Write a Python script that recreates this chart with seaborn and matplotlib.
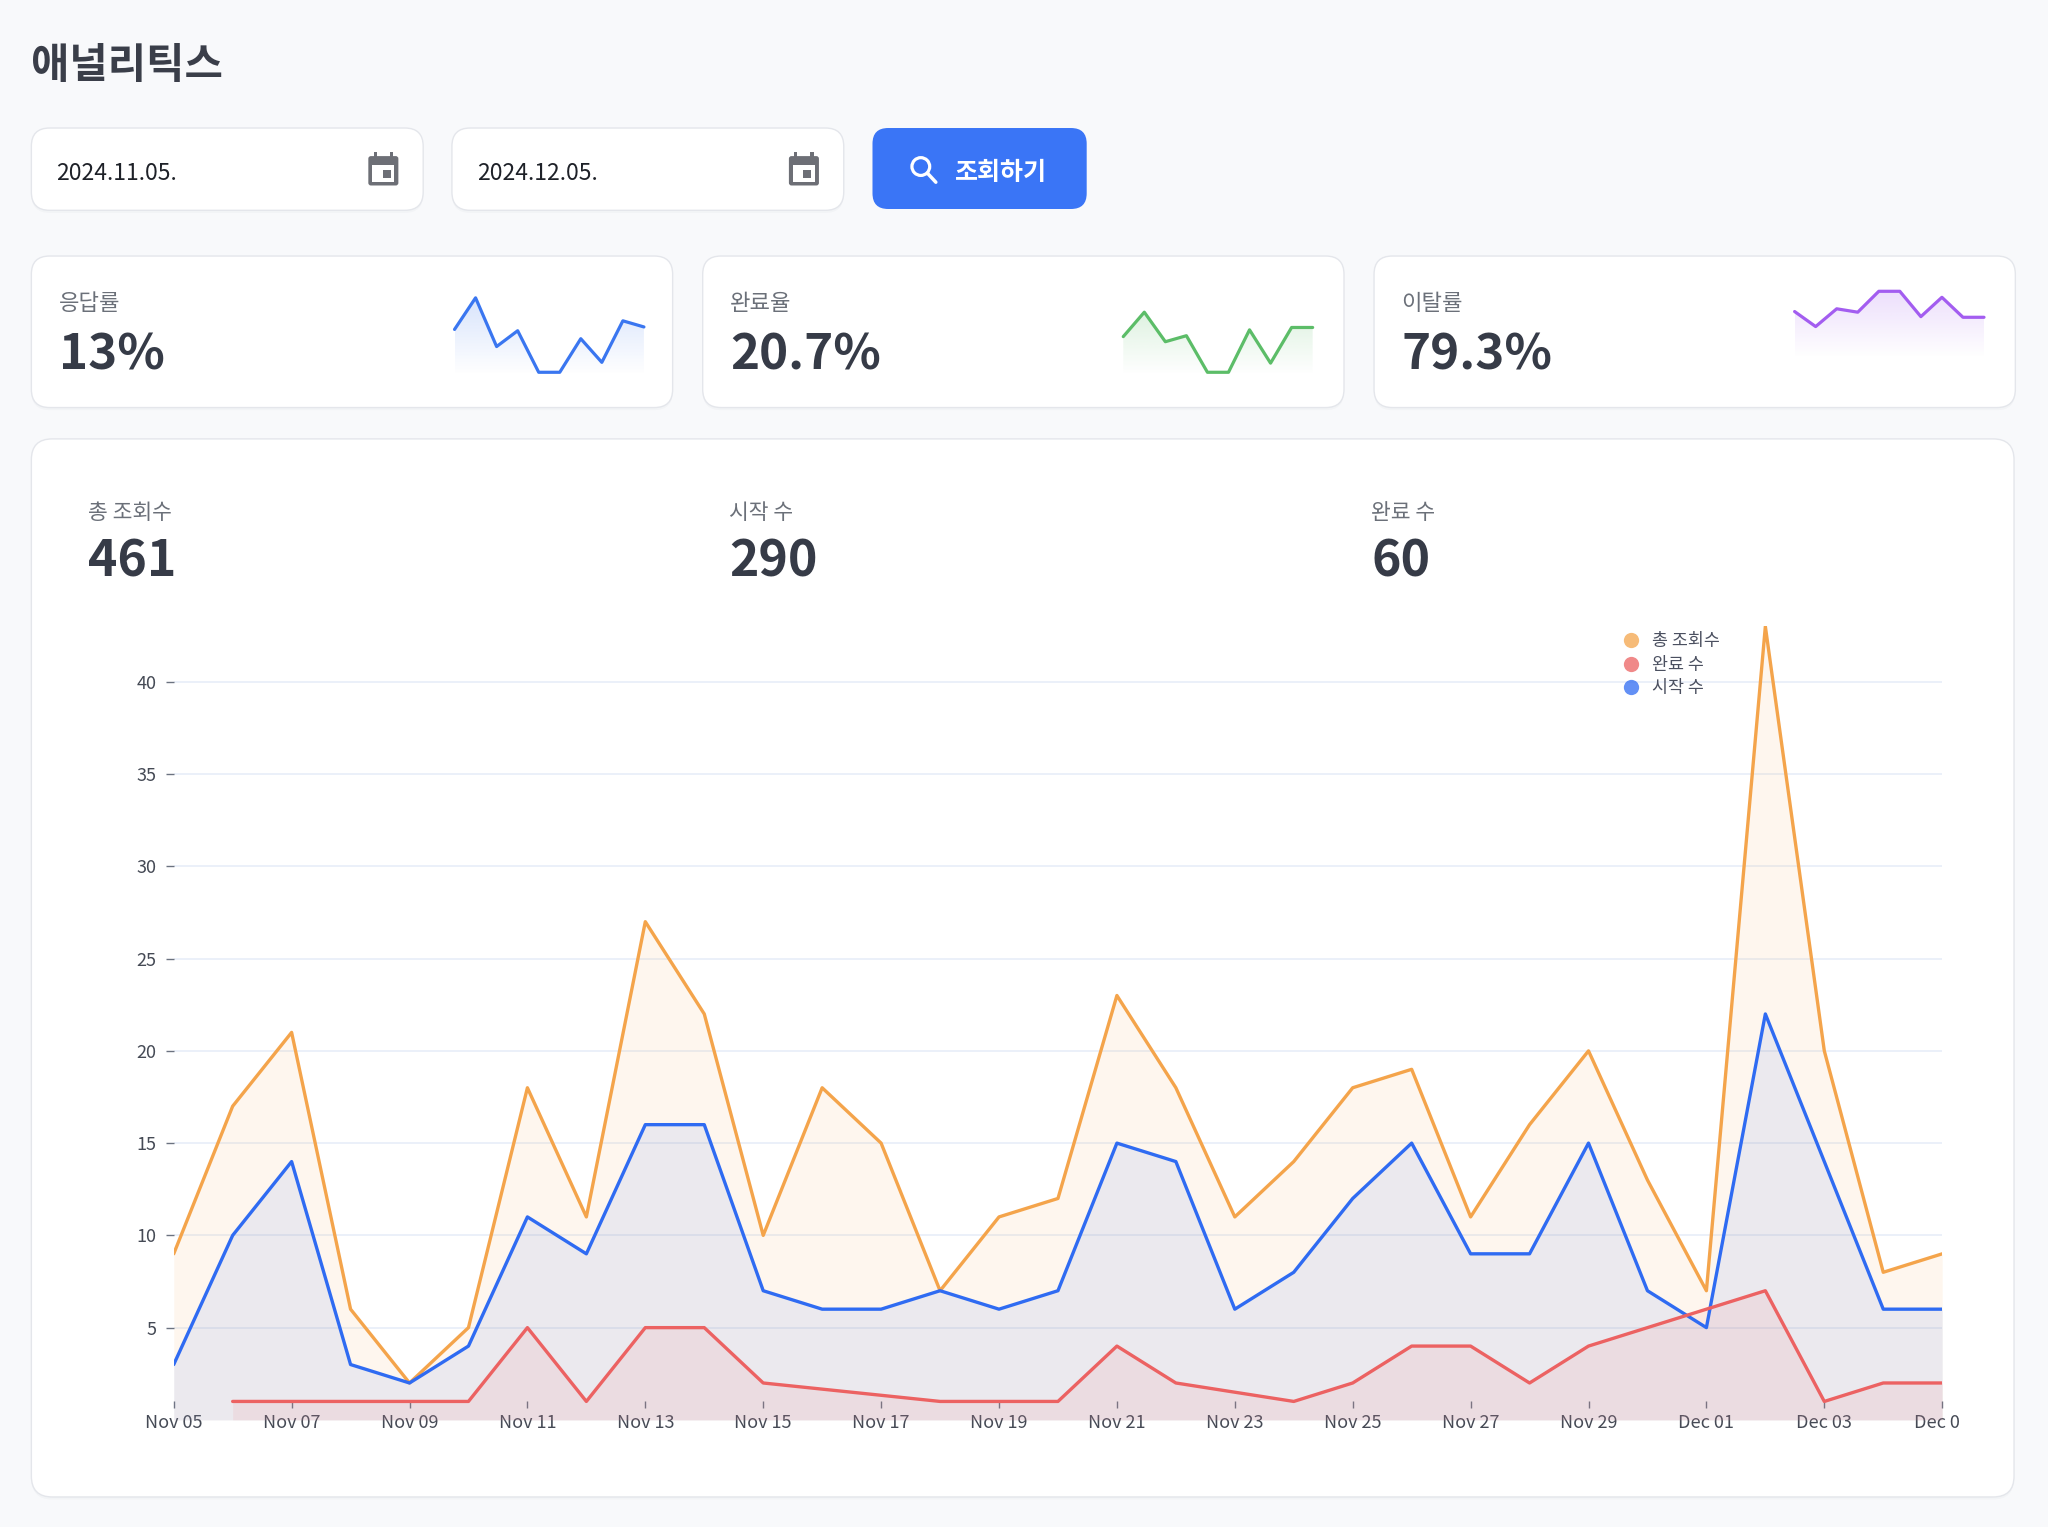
import numpy as np
import pandas as pd
import matplotlib.pyplot as plt
import matplotlib.colors as mcolors
import matplotlib.dates as mdates
import seaborn as sns
from matplotlib.patches import FancyBboxPatch, Rectangle, Circle, PathPatch
from matplotlib.lines import Line2D
from matplotlib.transforms import Bbox, TransformedBbox

# ---- data ----
dates = pd.date_range('2024-11-05', '2024-12-05', freq='D')
total_views = [9, 17, 21, 6, 2, 5, 18, 11, 27, 22, 10, 18, 15, 7, 11, 12,
               23, 18, 11, 14, 18, 19, 11, 16, 20, 13, 7, 43, 20, 8, 9]
started = [3, 10, 14, 3, 2, 4, 11, 9, 16, 16, 7, 6, 6, 7, 6, 7,
           15, 14, 6, 8, 12, 15, 9, 9, 15, 7, 5, 22, 14, 6, 6]
completed = [None, 1, 1, 1, 1, 1, 5, 1, 5, 5, 2, None, None, 1, 1, 1,
             4, 2, None, 1, 2, 4, 4, 2, 4, None, None, 7, 1, 2, 2]

kpi_labels = ['응답률', '완료율', '이탈률']
kpi_values = ['13%', '20.7%', '79.3%']
resp_trend = [39.8, 64, 26.7, 38.8, 7, 7, 32.7, 14.6, 46.4, 41.7]
comp_trend = [34.3, 53, 30.4, 35, 7, 7, 39.5, 14, 41.3, 41.3]
churn_trend = [53.5, 42, 55.6, 53, 69, 69, 49.6, 64.4, 49.1, 49.1]

stat_labels = ['총 조회수', '시작 수', '완료 수']
stat_values = ['461', '290', '60']

start_date = '2024.11.05.'
end_date = '2024.12.05.'

# ---- style ----
BG = '#F8F9FB'
BORDER = '#E4E6EB'
DARK = '#363B47'
GRAY = '#6B7079'
ORANGE = '#F4A44B'
BLUE = '#2F6BF2'
RED = '#EC6262'
BTN = '#3A75F6'

sns.set_theme(style='white')
plt.rcParams['font.family'] = ['Noto Sans CJK KR', 'DejaVu Sans']
plt.rcParams['axes.unicode_minus'] = False

W, H = 1568, 1169  # layout units (figure is 2048x1527 px)


def frac_box(x0, y0, x1, y1):
    return [x0 / W, 1 - y1 / H, (x1 - x0) / W, (y1 - y0) / H]


fig = plt.figure(figsize=(20.48, 15.27), dpi=100)
fig.patch.set_facecolor(BG)
bg = fig.add_axes([0, 0, 1, 1])
bg.set_xlim(0, W)
bg.set_ylim(H, 0)
bg.axis('off')


def card(x0, y0, x1, y1, r=14, fc='white', ec=BORDER, shadow=True):
    style = f'round,pad=0,rounding_size={r}'
    if shadow:
        bg.add_patch(FancyBboxPatch((x0, y0 + 2), x1 - x0, y1 - y0, boxstyle=style,
                                    fc='#1F2937', ec='none', alpha=0.025))
    bg.add_patch(FancyBboxPatch((x0, y0), x1 - x0, y1 - y0, boxstyle=style,
                                fc=fc, ec=ec, lw=1.0))


def calendar_icon(x, y):
    c = '#6D6F76'
    bg.add_patch(FancyBboxPatch((x, y + 3.5), 23, 22.5, boxstyle='round,pad=0,rounding_size=2',
                                fc=c, ec='none'))
    bg.add_patch(Rectangle((x + 3, y + 10), 17, 13, fc='white', ec='none'))
    bg.add_patch(Rectangle((x + 11, y + 14.5), 6, 6, fc=c, ec='none'))
    bg.add_patch(Rectangle((x + 4, y), 2.5, 5, fc=c, ec='none'))
    bg.add_patch(Rectangle((x + 16.5, y), 2.5, 5, fc=c, ec='none'))


# title
bg.text(24, 60, '애널리틱스', fontsize=30, fontweight='bold', color='#3A3E49', va='baseline')

# date inputs
for x0, txt in [(24, start_date), (346, end_date)]:
    card(x0, 98, x0 + 300, 161, r=14)
    bg.text(x0 + 19, 138, txt, fontsize=16.5, color='#1E2128', va='baseline')
    calendar_icon(x0 + 258, 116)

# search button
bg.add_patch(FancyBboxPatch((668, 98), 164, 62, boxstyle='round,pad=0,rounding_size=12',
                            fc=BTN, ec='none'))
bg.add_patch(Circle((705, 127.5), 6.8, fc='none', ec='white', lw=2.3))
bg.plot([710, 716.5], [132.5, 139.5], color='white', lw=2.5, solid_capstyle='round')
bg.text(731, 137.5, '조회하기', fontsize=18, fontweight='semibold', color='white', va='baseline')

# KPI cards
kpi_x = [24, 538, 1052]
for x0, lab, val in zip(kpi_x, kpi_labels, kpi_values):
    card(x0, 196, x0 + 491, 312, r=14)
    bg.text(x0 + 21, 237, lab, fontsize=16, color=GRAY, va='baseline')
    bg.text(x0 + 21, 282.5, val, fontsize=35.5, fontweight='bold', color=DARK, va='baseline')


def sparkline(x0, values, color, fade_to):
    sp = fig.add_axes(frac_box(x0, 217, x0 + 145, 292))
    xs = np.arange(len(values))
    vals = np.asarray(values, dtype=float)
    sp.set_xlim(0, len(values) - 1)
    sp.set_ylim(0, 75)
    sp.axis('off')
    poly = sp.fill_between(xs, vals, 0, color='none')
    clip = PathPatch(poly.get_paths()[0], transform=sp.transData, fc='none', ec='none')
    sp.add_patch(clip)
    grad = np.zeros((100, 1, 4))
    grad[..., :3] = mcolors.to_rgb(color)
    grad[:, 0, 3] = np.linspace(0.2, 0.0, 100)
    im = sp.imshow(grad, aspect='auto', origin='upper', zorder=1,
                   extent=[0, len(values) - 1, fade_to, vals.max()])
    im.set_clip_path(clip)
    sns.lineplot(x=xs, y=vals, ax=sp, color=color, lw=2.3, zorder=3)
    for ln in sp.lines:
        ln.set_clip_on(False)
    sp.set_xlim(0, len(values) - 1)
    sp.set_ylim(0, 75)


sparkline(348, resp_trend, '#3A76F0', 5)
sparkline(860, comp_trend, '#5CBD68', 5)
sparkline(1374, churn_trend, '#A35DF0', 18)

# main card
card(24, 336, 1542, 1146, r=16)
for x0, lab, val in zip([67, 558, 1050], stat_labels, stat_values):
    bg.text(x0, 397, lab, fontsize=15.5, color=GRAY, va='baseline')
    bg.text(x0, 441.5, val, fontsize=36, fontweight='bold', color=DARK, va='baseline')

# ---- main chart ----
df = pd.DataFrame({'date': dates, '총 조회수': total_views, '시작 수': started,
                   '완료 수': completed})
long_df = df.melt(id_vars='date', var_name='series', value_name='count').dropna()
long_df['count'] = long_df['count'].astype(float)

ax = fig.add_axes(frac_box(133, 479.6, 1487, 1087))
ax.set_facecolor('none')
palette = {'총 조회수': ORANGE, '시작 수': BLUE, '완료 수': RED}
order = ['총 조회수', '시작 수', '완료 수']

for i, name in enumerate(order):
    sub = long_df[long_df['series'] == name]
    ax.fill_between(sub['date'], sub['count'], 0, color=palette[name], alpha=0.09,
                    lw=0, zorder=1 + i * 0.1)

sns.lineplot(data=long_df, x='date', y='count', hue='series', hue_order=order,
             palette=palette, lw=2.4, ax=ax, legend=False, zorder=3)

ax.set_xlim(dates[0], dates[-1])
ax.set_ylim(0, 43)
ax.set_xlabel('')
ax.set_ylabel('')
ax.set_yticks(range(5, 45, 5))
ax.set_xticks(dates[::2])
ax.xaxis.set_major_formatter(mdates.DateFormatter('%b %d'))
ax.yaxis.grid(True, color='#E7EDF8', lw=1.2)
ax.xaxis.grid(False)
for side in ['top', 'right', 'left', 'bottom']:
    ax.spines[side].set_color('none')
ax.spines['bottom'].set_position(('outward', -13.5))
ax.tick_params(axis='y', direction='out', length=5.5, width=1, color='#6B7280',
               pad=7.0, labelsize=13, labelcolor='#454A55', left=True)
ax.tick_params(axis='x', direction='out', length=5.3, width=1, color='#6B7280',
               pad=4.0, labelsize=13, labelcolor='#454A55', bottom=True)

leg_names = ['총 조회수', '완료 수', '시작 수']
leg_handles = [Line2D([], [], marker='o', ls='', markersize=11, markeredgewidth=0,
                      color=palette[n], alpha=0.75) for n in leg_names]
leg = ax.legend(leg_handles, leg_names, loc='upper left',
                bbox_to_anchor=(0.819, 0.993), frameon=False, fontsize=12.5,
                handlelength=1.0, handletextpad=0.75, labelspacing=0.33,
                borderpad=0, borderaxespad=0, labelcolor='#4B5060')

# the last date label is cut off by the chart frame in the dashboard
fig.canvas.draw()
last = ax.get_xticklabels()[-1]
last.set_clip_box(TransformedBbox(Bbox.from_extents(0, 0, 1500 / W, 1), fig.transFigure))
last.set_clip_on(True)

fig.savefig('out.png', dpi=100, facecolor=BG)
